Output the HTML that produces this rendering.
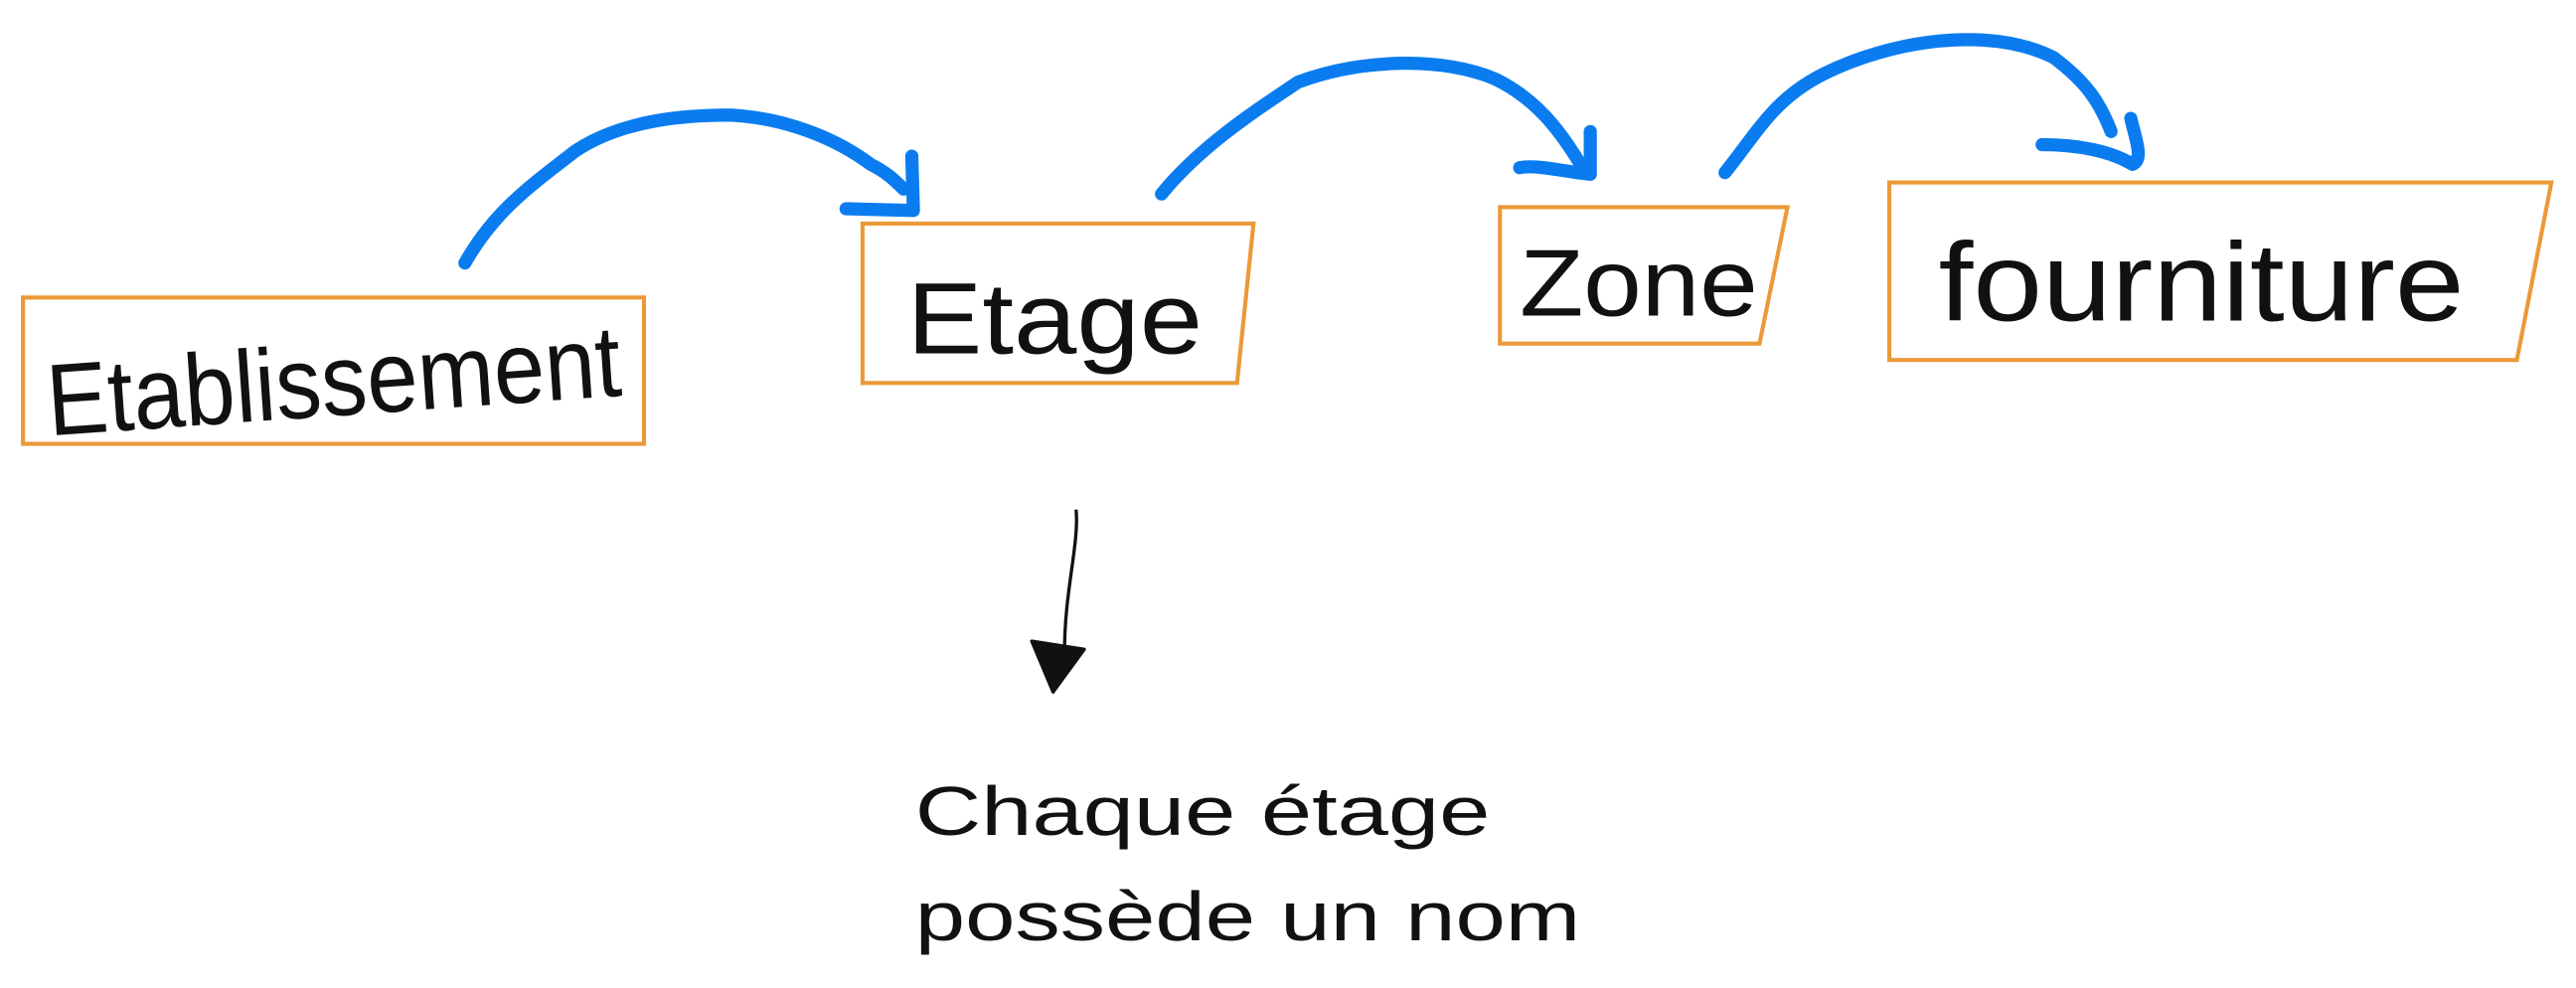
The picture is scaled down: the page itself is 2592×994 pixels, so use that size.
<!DOCTYPE html>
<html><head><meta charset="utf-8"><style>
html,body{margin:0;padding:0;background:#fff;}
svg{display:block;}
</style></head><body>
<svg width="2592" height="994" viewBox="0 0 1568 601" preserveAspectRatio="none" xmlns="http://www.w3.org/2000/svg">
<rect width="1568" height="601" fill="#fff"/>
<g fill="none" stroke="#ea9a38" stroke-width="2.5">
<polygon points="14,181 392,181 392,270 14,270"/>
<polygon points="525,136 763,136 753,233 525,233"/>
<polygon points="913,126 1088,126 1071,209 913,209"/>
<polygon points="1150,111 1553,111 1532,219 1150,219"/>
</g>
<g font-family="Liberation Sans, sans-serif" fill="#111" font-weight="normal">
<text x="30" y="265" font-size="62" textLength="350" lengthAdjust="spacingAndGlyphs" transform="rotate(-4 30 265)">Etablissement</text>
<text x="552" y="215" font-size="62" textLength="180" lengthAdjust="spacingAndGlyphs">Etage</text>
<text x="925" y="192" font-size="58" textLength="145" lengthAdjust="spacingAndGlyphs">Zone</text>
<text x="1180" y="195" font-size="68" textLength="320" lengthAdjust="spacingAndGlyphs">fourniture</text>
<text x="557" y="508" font-size="42" textLength="350" lengthAdjust="spacingAndGlyphs">Chaque étage</text>
<text x="557" y="572" font-size="42" textLength="405" lengthAdjust="spacingAndGlyphs">possède un nom</text>
</g>
<g fill="none" stroke="#0a7cf0" stroke-width="8" stroke-linecap="round" stroke-linejoin="round">
<path d="M283,160 C300,130 320,115 350,92 C380,72 420,70 445,70 C480,72 510,85 530,100 C540,105 545,110 550,115"/>
<path d="M555,95 L556,128 L515,127"/>
<path d="M707,118 C730,90 760,70 790,50 C830,35 880,35 910,48 C935,60 950,80 962,100"/>
<path d="M968,80 L968,106 C950,104 935,100 925,102"/>
<path d="M1050,105 C1070,80 1080,60 1110,45 C1150,25 1210,15 1250,35 C1270,50 1278,62 1285,80"/>
<path d="M1297,72 C1300,85 1305,97 1298,100 C1285,92 1265,88 1243,88"/>
</g>
<g stroke="#111" stroke-width="2" fill="#111" stroke-linejoin="round">
<path d="M655,310 C657,330 648,360 648,395" fill="none"/>
<polygon points="628,390 660,395 641,421"/>
</g>
</svg>
</body></html>
